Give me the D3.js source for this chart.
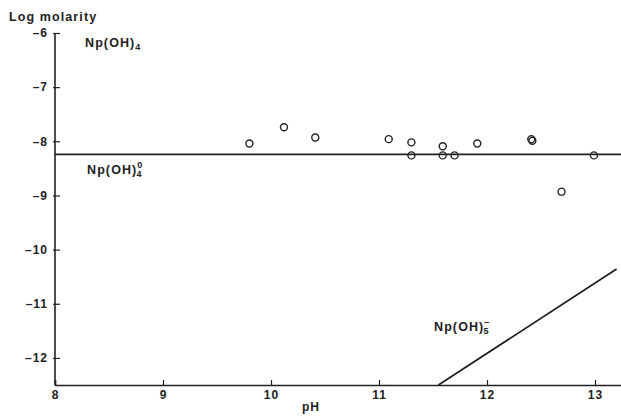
<!DOCTYPE html>
<html><head><meta charset="utf-8">
<script src="https://cdn.jsdelivr.net/npm/d3@7"></script>
<style>body{margin:0;background:#fff}svg{display:block}text{font-family:"Liberation Sans",Arial,sans-serif;font-weight:bold;fill:#222}</style>
</head><body>
<script>
const xTicks = [8, 9, 10, 11, 12, 13];
const yTicks = [-6, -7, -8, -9, -10, -11, -12];
const pointsPH = [9.8, 10.12, 10.41, 11.09, 11.30, 11.30, 11.59, 11.59, 11.70, 11.91, 12.41, 12.42, 12.69, 12.99];
const pointsLogM = [-8.04, -7.74, -7.93, -7.96, -8.02, -8.26, -8.09, -8.26, -8.26, -8.04, -7.96, -7.99, -8.93, -8.26];
const np4LinePH = [8, 13.25];
const np4LineLogM = [-8.24, -8.24];
const np5LinePH = [11.55, 13.2];
const np5LineLogM = [-12.5, -10.36];

const W = 621, H = 416;
const svg = d3.select("body").append("svg").attr("width", W).attr("height", H);
const x = d3.scaleLinear().domain([8, 13.25]).range([55, 622]);
const y = d3.scaleLinear().domain([-12.5, -6]).range([385, 33]);
const ink = "#222";

// axes
const gx = svg.append("g").attr("transform", `translate(0,${y(-12.5)})`)
  .call(d3.axisBottom(x).tickValues(xTicks).tickSize(-5).tickPadding(9).tickFormat(d3.format("d")));
const gy = svg.append("g").attr("transform", `translate(${x(8)},0)`)
  .call(d3.axisLeft(y).tickValues(yTicks).tickSize(-5).tickPadding(7).tickFormat(d => "\u2013" + Math.abs(d)));
[gx, gy].forEach(g => {
  g.select(".domain").attr("stroke", ink).attr("stroke-width", 1.6);
  g.selectAll(".tick line").attr("stroke", ink).attr("stroke-width", 1.2);
  g.selectAll(".tick text").attr("fill", ink).style("font-size", "12px").style("letter-spacing", "1px")
    .style("font-weight", "bold").style("font-family", '"Liberation Sans",Arial,sans-serif');
});
gx.selectAll(".tick text").attr("dy", "0.45em");
gy.select(".domain").attr("d", `M0,${y(-12.5)}V${y(-6)}`);
gy.selectAll(".tick line").attr("x1", -2);

// lines
const line = d3.line().x(d => x(d[0])).y(d => y(d[1]));
svg.append("path").datum(d3.zip(np4LinePH, np4LineLogM)).attr("d", line)
  .attr("fill", "none").attr("stroke", ink).attr("stroke-width", 1.8);
svg.append("path").datum(d3.zip(np5LinePH, np5LineLogM)).attr("d", line)
  .attr("fill", "none").attr("stroke", ink).attr("stroke-width", 1.8);

// points
svg.append("g").selectAll("circle").data(d3.zip(pointsPH, pointsLogM)).join("circle")
  .attr("cx", d => x(d[0])).attr("cy", d => y(d[1])).attr("r", 3.5)
  .attr("fill", "none").attr("stroke", ink).attr("stroke-width", 1.4);

// labels
const ls = "1.1px";
svg.append("text").attr("x", 9).attr("y", 21).style("font-size", "12.5px").style("letter-spacing", ls).text("Log molarity");
const t1 = svg.append("text").attr("x", 85).attr("y", 47).style("font-size", "12.5px").style("letter-spacing", ls);
t1.append("tspan").text("Np(OH)");
t1.append("tspan").attr("dy", 3).style("font-size", "9px").text("4");
const t2 = svg.append("text").attr("x", 87).attr("y", 174).style("font-size", "12.5px").style("letter-spacing", ls);
t2.append("tspan").text("Np(OH)");
t2.append("tspan").attr("dy", -6).style("font-size", "9px").text("0");
t2.append("tspan").attr("dx", -7).attr("dy", 9).style("font-size", "9px").text("4");
const t3 = svg.append("text").attr("x", 434).attr("y", 331).style("font-size", "12.5px").style("letter-spacing", ls);
t3.append("tspan").text("Np(OH)");
t3.append("tspan").attr("dy", -6).style("font-size", "9px").text("\u2013");
t3.append("tspan").attr("dx", -7).attr("dy", 9).style("font-size", "9px").text("5");
svg.append("text").attr("x", 302).attr("y", 411).style("font-size", "12px").style("letter-spacing", "1px").text("pH");
</script>
</body></html>
